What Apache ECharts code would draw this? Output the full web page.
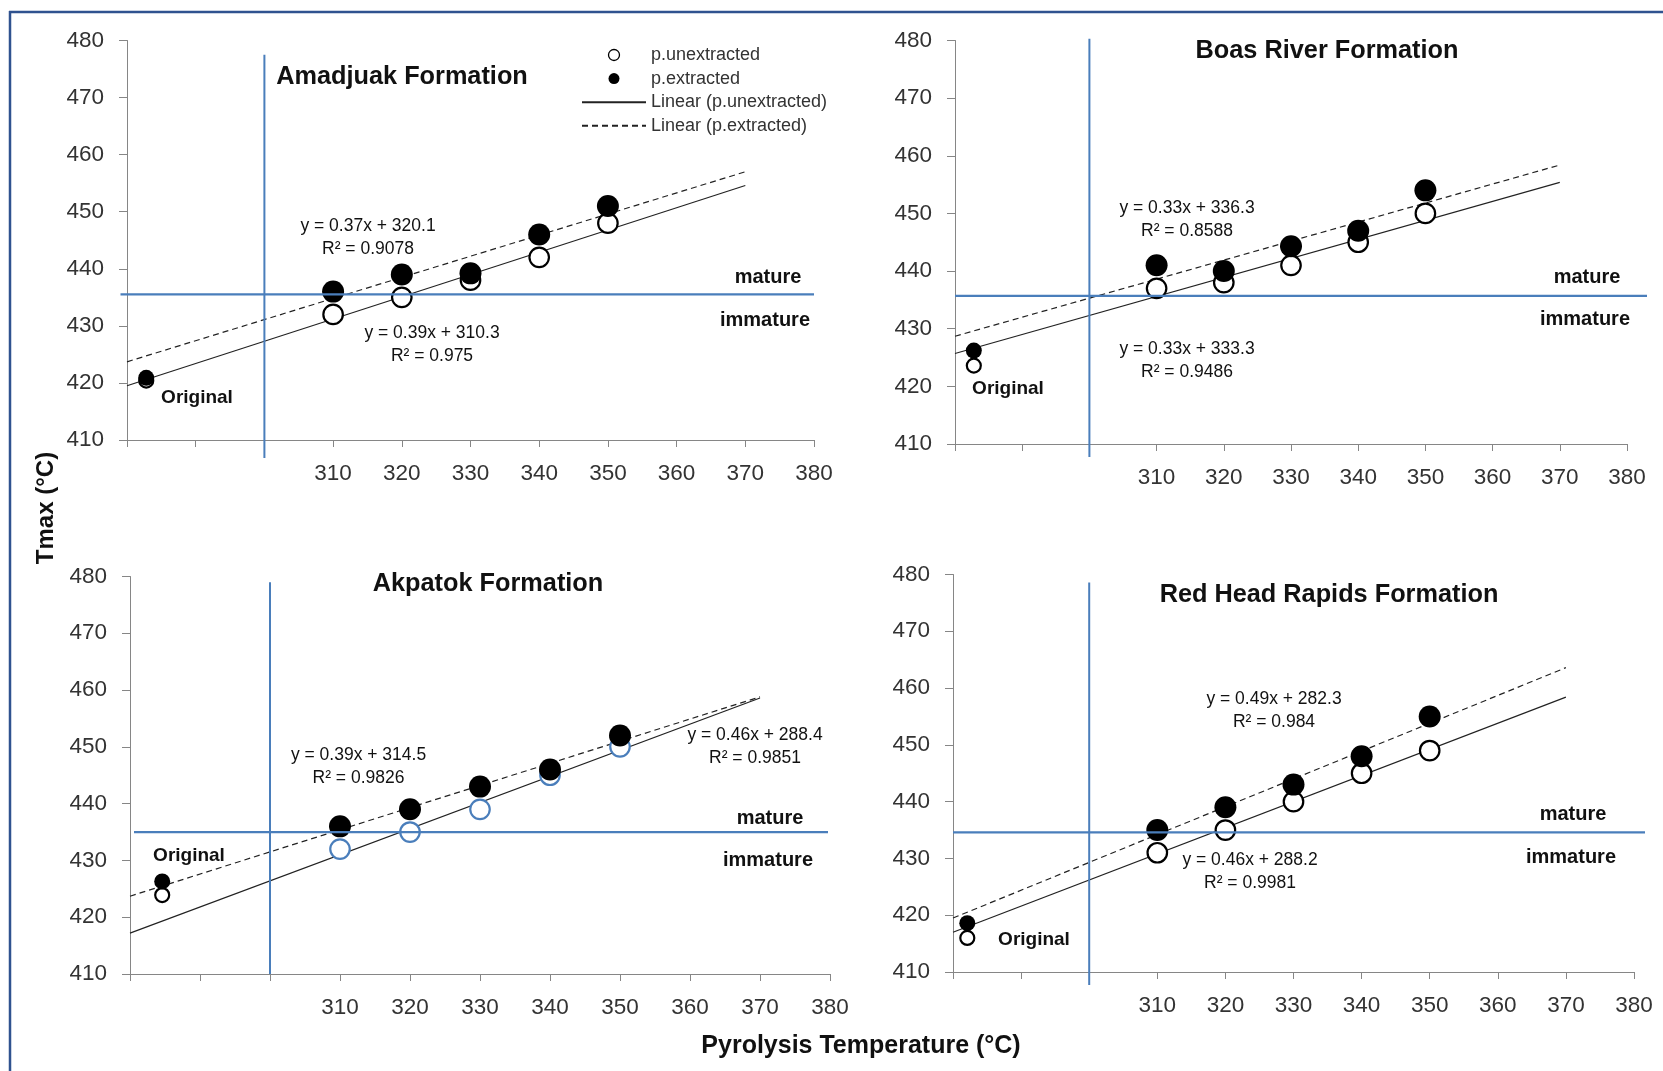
<!DOCTYPE html>
<html><head><meta charset="utf-8">
<script src="https://cdn.jsdelivr.net/npm/echarts@6/dist/echarts.min.js"></script>
<style>html,body{margin:0;padding:0;background:#fff}#c{width:1663px;height:1071px}</style>
</head><body><div id="c"></div>
<script>
// ---------- data ----------
const xTicks = [280, 290, 300, 310, 320, 330, 340, 350, 360, 370, 380];
const xTickLabels = ['', '', '', '310', '320', '330', '340', '350', '360', '370', '380'];
const yTickLabels = ['410', '420', '430', '440', '450', '460', '470', '480'];
const titles = ['Amadjuak Formation', 'Boas River Formation', 'Akpatok Formation', 'Red Head Rapids Formation'];
const pyroTemps = [310, 320, 330, 340, 350];
const originalX = [282.8, 282.8, 284.6, 282.1];
// Tmax: first value = Original, then 310..350
const unextracted = [
  [420.4, 432, 435, 438, 442, 448],
  [423.6, 437, 438, 441, 445, 450],
  [423.9, 432, 435, 439, 445, 450],
  [416.0, 431, 435, 440, 445, 449]
];
const extracted = [
  [420.9, 436, 439, 439.2, 446, 451],
  [426.2, 441, 440, 444.3, 447, 454],
  [426.3, 436, 439, 443, 446, 452],
  [418.6, 435, 439, 443, 448, 455]
];
const trendX = [280, 370];
const trendUnext = [[419.5, 454.6], [425.7, 455.4], [417.2, 458.6], [417.0, 458.4]];
const trendExt = [[423.7, 457.0], [428.7, 458.4], [423.7, 458.8], [419.5, 463.6]];
const eqUnext = [['y = 0.39x + 310.3', 'R² = 0.975'], ['y = 0.33x + 333.3', 'R² = 0.9486'], ['y = 0.46x + 288.4', 'R² = 0.9851'], ['y = 0.46x + 288.2', 'R² = 0.9981']];
const eqExt = [['y = 0.37x + 320.1', 'R² = 0.9078'], ['y = 0.33x + 336.3', 'R² = 0.8588'], ['y = 0.39x + 314.5', 'R² = 0.9826'], ['y = 0.49x + 282.3', 'R² = 0.984']];
const maturityLimit = [435.5, 435.7, 435.0, 434.6];
const pyroLimit = 300;
const vLineTop = [477.5, 480.3, 479, 478.6];
const blueOpenPanels = [false, false, true, false];

// ---------- layout / style ----------
const FONT = "'Liberation Sans', Arial, sans-serif";
const BLUE = '#4a7ebb';
const AXIS = '#868686';
const layout = [
  {grid: {left: 127, top: 40.5, width: 687, height: 399.5}, title: [402, 77], eqExt: [368, 226], eqUnext: [432, 333], mature: [768, 277], immature: [765, 320], original: [197, 398], vExt: 18, hL: -6.5, hR: 0},
  {grid: {left: 955, top: 40.5, width: 672, height: 403.5}, title: [1327, 51], eqExt: [1187, 208], eqUnext: [1187, 349], mature: [1587, 277], immature: [1585, 319], original: [1008, 389], vExt: 13, hL: 0, hR: 20},
  {grid: {left: 130, top: 576.5, width: 700, height: 397.5}, title: [488, 584], eqExt: [358.5, 755], eqUnext: [755, 735], mature: [770, 818], immature: [768, 860], original: [189, 856], vExt: 0, hL: 4, hR: -2},
  {grid: {left: 953, top: 574.5, width: 681, height: 397.5}, title: [1329, 595], eqExt: [1274, 699], eqUnext: [1250, 860], mature: [1573, 814.5], immature: [1571, 857], original: [1034, 940], vExt: 13, hL: 0, hR: 11}
];

const chart = echarts.init(document.getElementById('c'), null, {renderer: 'canvas'});

const grids = [], xAxes = [], yAxes = [], series = [];
layout.forEach((L, i) => {
  grids.push(Object.assign({containLabel: false}, L.grid));
  xAxes.push({
    type: 'value', gridIndex: i, min: xTicks[0], max: xTicks[xTicks.length - 1], interval: 10,
    axisLine: {lineStyle: {color: AXIS, width: 1}},
    axisTick: {show: true, inside: false, length: 7, lineStyle: {color: AXIS}},
    splitLine: {show: false},
    axisLabel: {margin: 22, fontFamily: FONT, fontSize: 22.5, color: '#333',
      formatter: v => { const k = xTicks.indexOf(Math.round(v)); return k >= 0 ? xTickLabels[k] : ''; }}
  });
  yAxes.push({
    type: 'value', gridIndex: i, min: 410, max: 480, interval: 10,
    axisLine: {show: true, lineStyle: {color: AXIS, width: 1}},
    axisTick: {show: true, inside: false, length: 8, lineStyle: {color: AXIS}},
    splitLine: {show: false},
    axisLabel: {margin: 23, fontFamily: FONT, fontSize: 22.5, color: '#333',
      formatter: v => { const k = Math.round((v - 410) / 10); return yTickLabels[k] ?? ''; }}
  });
  const xs = [originalX[i]].concat(pyroTemps);
  series.push({
    name: 'Linear (p.unextracted)', type: 'line', xAxisIndex: i, yAxisIndex: i, symbol: 'none', z: 1,
    lineStyle: {color: '#222', width: 1.2, type: 'solid'}, itemStyle: {color: '#222'},
    data: trendX.map((x, k) => [x, trendUnext[i][k]]), silent: true
  });
  series.push({
    name: 'Linear (p.extracted)', type: 'line', xAxisIndex: i, yAxisIndex: i, symbol: 'none', z: 1,
    lineStyle: {color: '#222', width: 1.2, type: [6, 4]}, itemStyle: {color: '#222'},
    data: trendX.map((x, k) => [x, trendExt[i][k]]), silent: true
  });
  series.push({
    name: 'p.unextracted', type: 'scatter', xAxisIndex: i, yAxisIndex: i, z: 3,
    symbolSize: (v, p) => p.dataIndex === 0 ? 14 : 19.5,
    itemStyle: {color: '#fff', borderColor: '#000', borderWidth: 2.2, opacity: 1},
    data: unextracted[i].map((y, k) => {
      const item = {value: [xs[k], y]};
      if (blueOpenPanels[i] && k > 0) item.itemStyle = {borderColor: BLUE};
      return item;
    })
  });
  series.push({
    name: 'p.extracted', type: 'scatter', xAxisIndex: i, yAxisIndex: i, z: 4,
    symbolSize: (v, p) => p.dataIndex === 0 ? 16 : 22,
    itemStyle: {color: '#000', opacity: 1},
    data: extracted[i].map((y, k) => [xs[k], y])
  });
});

chart.setOption({
  animation: false,
  backgroundColor: '#fff',
  grid: grids, xAxis: xAxes, yAxis: yAxes, series: series,
  legend: {
    orient: 'vertical', left: 576, top: 41, itemWidth: 64, itemHeight: 11, itemGap: 5.6,
    selectedMode: false,
    textStyle: {fontFamily: FONT, fontSize: 18, color: '#333', lineHeight: 16},
    data: [
      {name: 'p.unextracted', itemStyle: {borderWidth: 1.3}},
      {name: 'p.extracted'},
      {name: 'Linear (p.unextracted)', itemStyle: {opacity: 0}},
      {name: 'Linear (p.extracted)', itemStyle: {opacity: 0}}
    ]
  }
});

// ---------- annotations ----------
const gfx = [];
const txt = (x, y, s, size, bold, extra) => gfx.push(Object.assign({
  type: 'text', x: x, y: y, z: 50,
  style: {text: s, fill: '#111', font: (bold ? 'bold ' : '') + size + 'px ' + FONT, textAlign: 'center', textVerticalAlign: 'middle'}
}, extra || {}));

// frame
gfx.push({type: 'line', z: 60, shape: {x1: 9, y1: 12, x2: 1663, y2: 12}, style: {stroke: '#2f528f', lineWidth: 2.5}});
gfx.push({type: 'line', z: 60, shape: {x1: 10, y1: 11, x2: 10, y2: 1071}, style: {stroke: '#2f528f', lineWidth: 2.5}});

layout.forEach((L, i) => {
  const vt = chart.convertToPixel({gridIndex: i}, [pyroLimit, vLineTop[i]]);
  const vb = chart.convertToPixel({gridIndex: i}, [pyroLimit, 410]);
  gfx.push({type: 'line', z: 40, shape: {x1: vt[0], y1: vt[1], x2: vb[0], y2: vb[1] + L.vExt}, style: {stroke: BLUE, lineWidth: 2}});
  const hl = chart.convertToPixel({gridIndex: i}, [280, maturityLimit[i]]);
  const hr = chart.convertToPixel({gridIndex: i}, [380, maturityLimit[i]]);
  gfx.push({type: 'line', z: 40, shape: {x1: hl[0] + L.hL, y1: hl[1], x2: hr[0] + L.hR, y2: hr[1]}, style: {stroke: BLUE, lineWidth: 2.2}});

  txt(L.title[0], L.title[1], titles[i], 25.3, true);
  txt(L.eqExt[0], L.eqExt[1], eqExt[i][0], 17.5, false);
  txt(L.eqExt[0], L.eqExt[1] + 23, eqExt[i][1], 17.5, false);
  txt(L.eqUnext[0], L.eqUnext[1], eqUnext[i][0], 17.5, false);
  txt(L.eqUnext[0], L.eqUnext[1] + 23, eqUnext[i][1], 17.5, false);
  txt(L.mature[0], L.mature[1], 'mature', 20, true);
  txt(L.immature[0], L.immature[1], 'immature', 20, true);
  txt(L.original[0], L.original[1], 'Original', 19, true);
});

txt(46, 508, 'Tmax (°C)', 24, true, {rotation: Math.PI / 2});
txt(861, 1046, 'Pyrolysis Temperature (°C)', 25, true);

chart.setOption({graphic: gfx});
</script>
</body></html>
